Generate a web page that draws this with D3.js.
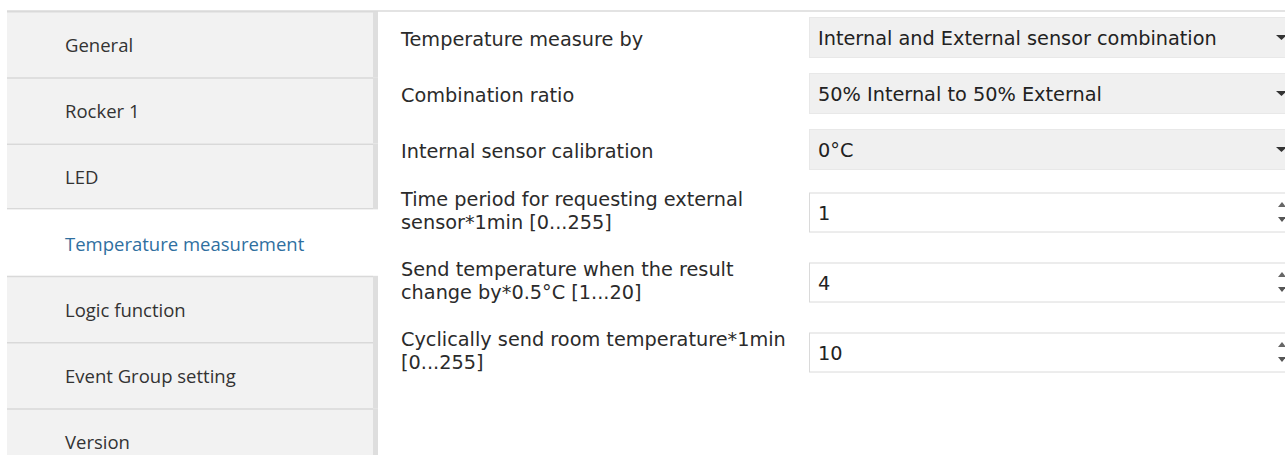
<!DOCTYPE html>
<html>
<head>
<meta charset="utf-8">
<script src="https://cdn.jsdelivr.net/npm/d3@7"></script>
<style>
  body { margin: 0; background: #fff; }
  svg { display: block; }
  text { font-family: "Open Sans", "Noto Sans", sans-serif; }
  text.lbl, text.val { font-family: "DejaVu Sans", sans-serif; }
</style>
</head>
<body>
<svg id="page" width="1285" height="455"></svg>
<script>
// left menu
var menuItems = ["General", "Rocker 1", "LED", "Temperature measurement",
                 "Logic function", "Event Group setting", "Version"];
var selectedItem = "Temperature measurement";

// parameter rows
var paramLabels = [
  ["Temperature measure by"],
  ["Combination ratio"],
  ["Internal sensor calibration"],
  ["Time period for requesting external", "sensor*1min [0...255]"],
  ["Send temperature when the result", "change by*0.5°C [1...20]"],
  ["Cyclically send room temperature*1min", "[0...255]"]
];
var paramValues = ["Internal and External sensor combination", "50% Internal to 50% External",
                   "0°C", "1", "4", "10"];
var paramKinds = ["select", "select", "select", "spin", "spin", "spin"];

var W = 1285, H = 455;
var svg = d3.select("#page");

// ---- left menu ----
var menuY = d3.scaleBand()
	.domain(d3.range(menuItems.length))
	.range([11, 11 + menuItems.length * 66.2]);

var menu = svg.append("g");
var rows = menu.selectAll("g.item")
	.data(menuItems)
	.enter()
	.append("g")
	.attr("class", "item")
	.attr("transform", function(d, i) { return "translate(0," + menuY(i) + ")"; });

rows.append("rect")
	.attr("x", 7)
	.attr("width", function(d) { return d == selectedItem ? 373 : 366; })
	.attr("height", menuY.bandwidth())
	.style("fill", function(d) { return d == selectedItem ? "#ffffff" : "#f2f2f2"; });

// right edge shadow of the menu (not on the selected row)
rows.filter(function(d) { return d != selectedItem; })
	.append("rect")
	.attr("x", 373)
	.attr("width", 5)
	.attr("height", menuY.bandwidth())
	.style("fill", "#dedede");

rows.filter(function(d) { return d != selectedItem; })
	.append("line")
	.attr("x1", 7).attr("x2", 373)
	.attr("y1", 0.75).attr("y2", 0.75)
	.style("stroke", "#d9d9d9")
	.style("stroke-width", 1.5);

rows.filter(function(d, i) { return menuItems[i + 1] == selectedItem; })
	.append("line")
	.attr("x1", 7).attr("x2", 373)
	.attr("y1", menuY.bandwidth() - 0.75).attr("y2", menuY.bandwidth() - 0.75)
	.style("stroke", "#d9d9d9")
	.style("stroke-width", 1.5);

rows.append("text")
	.attr("x", 65)
	.attr("y", menuY.bandwidth() / 2 + 8)
	.style("font-size", "18.5px")
	.style("fill", function(d) { return d == selectedItem ? "#2f6f9f" : "#333333"; })
	.text(function(d) { return d; });

// top border line
svg.append("line")
	.attr("x1", 7).attr("x2", W)
	.attr("y1", 11).attr("y2", 11)
	.style("stroke", "#dadada")
	.style("stroke-width", 1.5);

// ---- parameter rows ----
var rowH = paramLabels.map(function(l) { return l.length > 1 ? 70 : 56; });
var rowTop = [9];
rowH.forEach(function(h, i) { rowTop.push(rowTop[i] + h); });
var centers = rowH.map(function(h, i) { return rowTop[i] + h / 2; });

var params = svg.append("g").selectAll("g.param")
	.data(paramLabels)
	.enter()
	.append("g")
	.attr("class", "param")
	.attr("transform", function(d, i) { return "translate(0," + centers[i] + ")"; });

params.each(function(lines, i) {
	var g = d3.select(this);
	var lh = 23;
	var lbl = g.append("text")
		.attr("class", "lbl")
		.attr("x", 401)
		.attr("y", lines.length > 1 ? -6 : 9)
		.style("font-size", "19.3px")
		.style("fill", "#2b2b2b");
	lbl.selectAll("tspan")
		.data(lines)
		.enter()
		.append("tspan")
		.attr("x", 401)
		.attr("dy", function(t, j) { return j == 0 ? 0 : lh; })
		.text(function(t) { return t; });

	var spin = paramKinds[i] == "spin";
	var bh = spin ? 39 : 40;
	g.append("rect")
		.attr("x", 809.5)
		.attr("y", -bh / 2 + 0.5)
		.attr("width", 500)
		.attr("height", bh)
		.style("fill", spin ? "#ffffff" : "#f0f0f0")
		.style("stroke", spin ? "#dadada" : "#e8e8e8")
		.style("stroke-width", 1);

	g.append("text")
		.attr("class", "val")
		.attr("x", 818)
		.attr("y", 8)
		.style("font-size", "19.3px")
		.style("fill", "#222222")
		.text(paramValues[i]);

	if (spin) {
		g.append("path")
			.attr("d", "M1278,-5 L1282,-10 L1286,-5 Z")
			.style("fill", "#666");
		g.append("path")
			.attr("d", "M1278,5 L1282,10 L1286,5 Z")
			.style("fill", "#555");
	} else {
		g.append("path")
			.attr("d", "M1276,-2 L1287,-2 L1281.5,3 Z")
			.style("fill", "#333");
	}
});
</script>
</body>
</html>
